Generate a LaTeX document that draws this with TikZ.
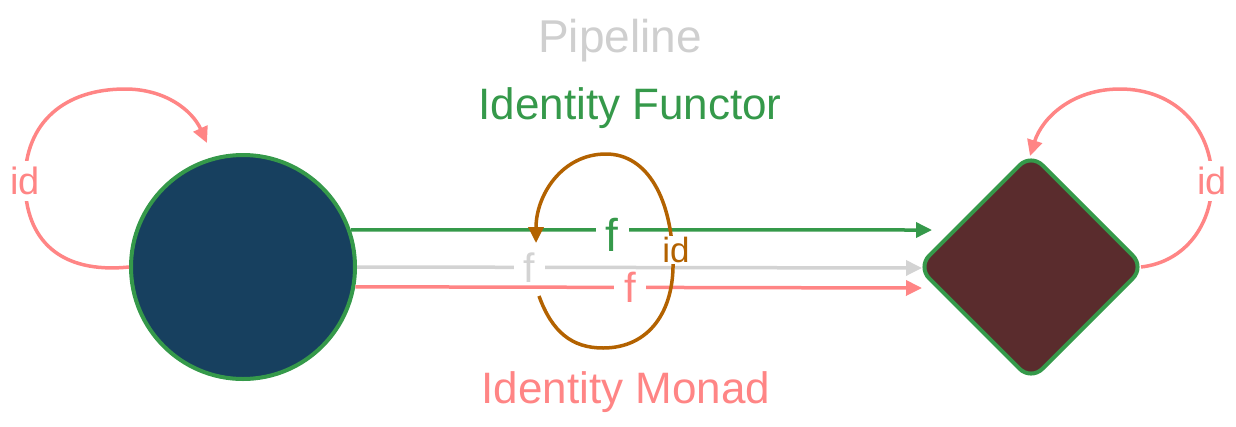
\documentclass[tikz,border=0pt]{standalone}
\usepackage{fontspec}
\setmainfont{Liberation Sans}
\usetikzlibrary{arrows.meta,shapes.geometric}
\definecolor{cfill}{HTML}{17405F}
\definecolor{dfill}{HTML}{5A2C2D}
\definecolor{cgreen}{HTML}{35994A}
\definecolor{cpink}{HTML}{FF8585}
\definecolor{cgray}{HTML}{D3D3D3}
\definecolor{corange}{HTML}{B36200}
\definecolor{ctitle}{HTML}{CFCFCF}
\tikzset{
  conn/.style={line width=3.5pt, -{Triangle[length=16pt,width=15pt]}},
  loopline/.style={line width=3.5pt, -{Triangle[length=16pt,width=15pt]}},
  lbl/.style={fill=white, inner xsep=10pt, inner ysep=1pt},
  titletext/.style={font=\fontsize{44}{48}\selectfont, anchor=base},
}
\begin{document}
\begin{tikzpicture}[x=1pt,y=-1pt]
\useasboundingbox (0,0) rectangle (1236,426);
% nodes
\node[circle, fill=cfill, draw=cgreen, line width=4pt, minimum size=224pt, inner sep=0pt] (circ) at (243,267) {};
\node[diamond, fill=dfill, draw=cgreen, line width=4pt, rounded corners=16pt, minimum width=228pt, minimum height=228pt, inner sep=0pt] (dia) at (1031,267) {};
% end points
\coordinate (gEnd) at (932,230);
\coordinate (sEnd) at (922,268);
\coordinate (pEnd) at (922,288);
% titles
\node[titletext, text=ctitle, font=\fontsize{46}{50}\selectfont] (tpipe) at (620,52) {Pipeline};
\node[titletext, text=cgreen] (tfun) at (630,119) {Identity Functor};
\node[titletext, text=cpink] (tmon) at (626,403) {Identity Monad};
% arrows
\draw[conn, cgreen] (circ.19) -- node[lbl, pos=0.45, yshift=-5pt, font=\fontsize{46}{48}\selectfont, text=cgreen] (lf1) {f} (gEnd);
\draw[conn, cgray] (circ.-0.5) -- node[lbl, pos=0.305, font=\fontsize{41}{44}\selectfont, text=cgray] (lf2) {f} (sEnd);
\draw[conn, cpink] (circ.-10.7) -- node[lbl, pos=0.485, font=\fontsize{42}{44}\selectfont, text=cpink] (lf3) {f} (pEnd);
% orange loop
\coordinate (oStart) at (539,296);
\coordinate (oEnd) at (536,243);
\draw[loopline, corange]
  (oStart) .. controls (552,332) and (572,348) .. (603,348)
  .. controls (650,348) and (674,310) .. (673,262)
  .. controls (672,200) and (648,154) .. (606,154)
  .. controls (562,154) and (536,195) .. (oEnd);
\node[fill=white, inner sep=1pt, text=corange, font=\fontsize{35}{38}\selectfont] (lid) at (676,250) {id};
% left self loop
\draw[loopline, cpink]
  (circ.west) .. controls (60,274) and (25,240) .. node[pos=1, fill=white, inner xsep=1pt, inner ysep=6pt, text=cpink, font=\fontsize{38}{40}\selectfont] (lidl) {id} (25,181)
  .. controls (25,122) and (65,89) .. (125,89)
  .. controls (165,89) and (192,110) .. (207,143);
% right self loop
\draw[loopline, cpink]
  ([xshift=-6pt]dia.east) .. controls (1185,262) and (1212,225) .. node[pos=1, fill=white, inner xsep=1pt, inner ysep=6pt, text=cpink, font=\fontsize{38}{40}\selectfont] (lidr) {id} (1212,181)
  .. controls (1212,128) and (1175,89) .. (1120,89)
  .. controls (1072,89) and (1042,118) .. (1030,156);
\end{tikzpicture}
\end{document}
